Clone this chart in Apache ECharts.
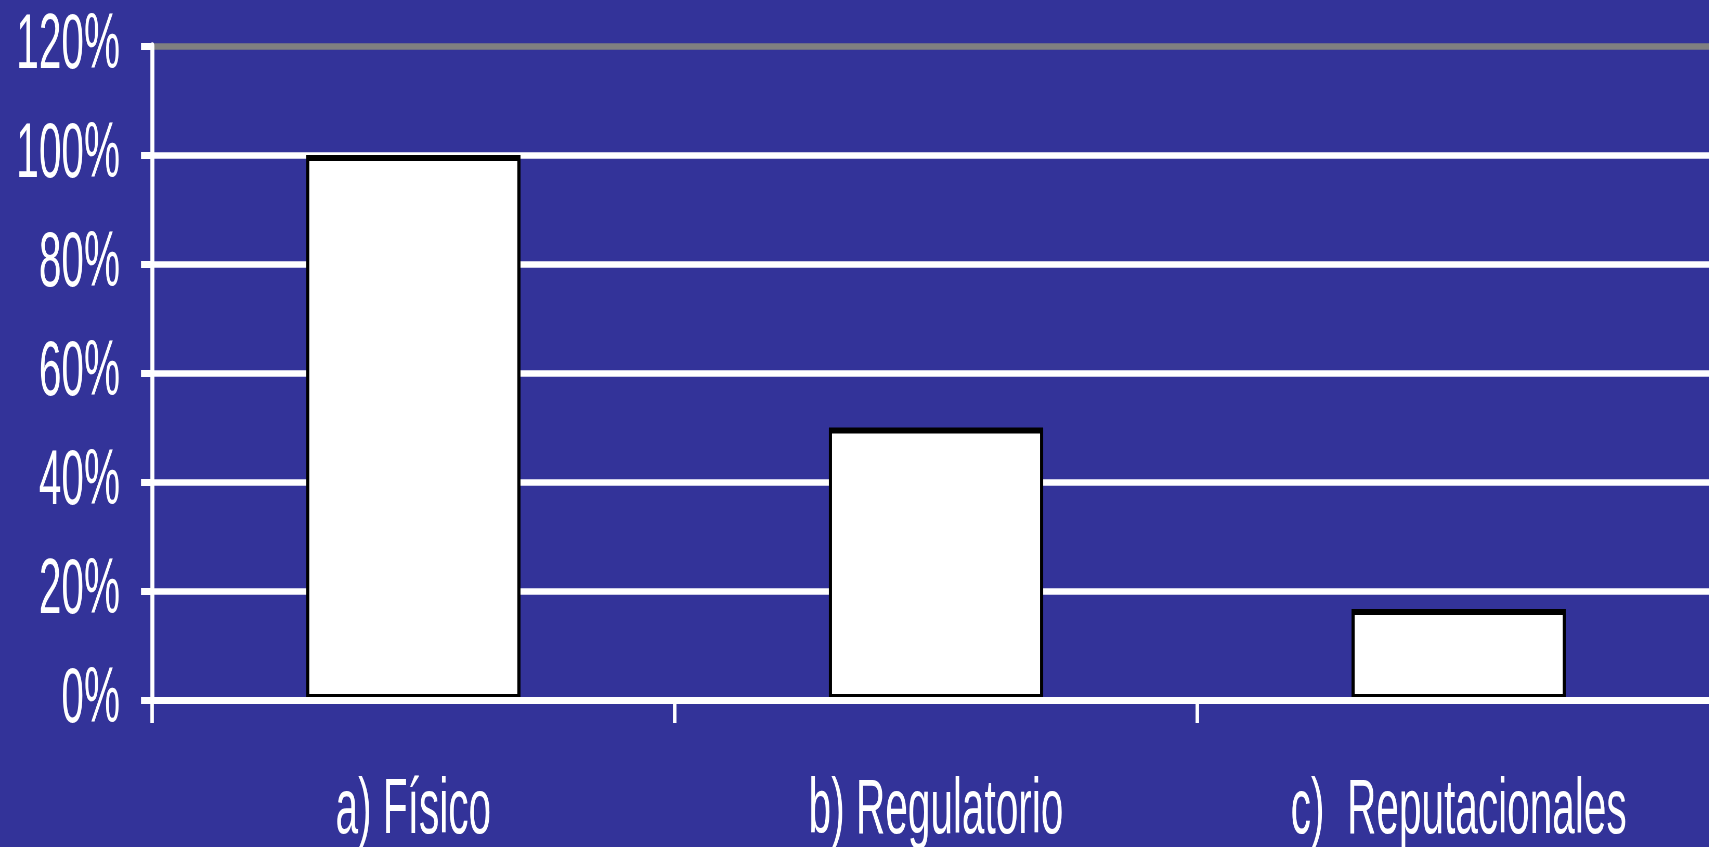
<!DOCTYPE html>
<html>
<head>
<meta charset="utf-8">
<script src="https://cdn.jsdelivr.net/npm/echarts@6/dist/echarts.min.js"></script>
<style>
html,body{margin:0;padding:0;overflow:hidden;background:#333399;width:1709px;height:847px}
#c{width:3287px;height:847px;transform:scaleX(0.52);transform-origin:0 0}
</style>
</head>
<body>
<div id="c"></div>
<script>
// Data
const categories = ['a) Físico', 'b) Regulatorio', 'c)  Reputacionales'];
const values = [100, 50, 16.7];
const yTicks = { min: 0, max: 120, interval: 20 };

const SX = 0.52; // horizontal condensation of the original picture
const chart = echarts.init(document.getElementById('c'), null, { renderer: 'canvas' });
const font = 'Liberation Sans, Arial, sans-serif';
chart.setOption({
  backgroundColor: '#333399',
  animation: false,
  grid: { left: 152 / SX, top: 46, width: 1568 / SX, bottom: 147, containLabel: false, outerBoundsMode: 'none' },
  xAxis: {
    type: 'category',
    data: categories,
    z: 5,
    axisLine: { show: true, lineStyle: { color: '#ffffff', width: 7 } },
    axisTick: { show: true, length: 23, lineStyle: { color: '#ffffff', width: 3.5 / SX } },
    axisLabel: { color: '#ffffff', fontSize: 78, fontFamily: font, margin: 72 }
  },
  yAxis: {
    type: 'value',
    min: yTicks.min, max: yTicks.max, interval: yTicks.interval,
    axisLine: { show: true, lineStyle: { color: '#ffffff', width: 4 / SX } },
    axisTick: { show: true, length: 11 / SX, lineStyle: { color: '#ffffff', width: 7 } },
    axisLabel: { color: '#ffffff', fontSize: 78, fontFamily: font, margin: 32 / SX, formatter: '{value}%' },
    splitLine: { show: true, lineStyle: { color: ['#ffffff','#ffffff','#ffffff','#ffffff','#ffffff','#ffffff','#808080'], width: 6.5 } }
  },
  series: [{
    type: 'bar',
    data: values,
    barWidth: '41%',
    itemStyle: { color: '#ffffff', borderColor: '#000000', borderWidth: 6 }
  }]
});
</script>
</body>
</html>
